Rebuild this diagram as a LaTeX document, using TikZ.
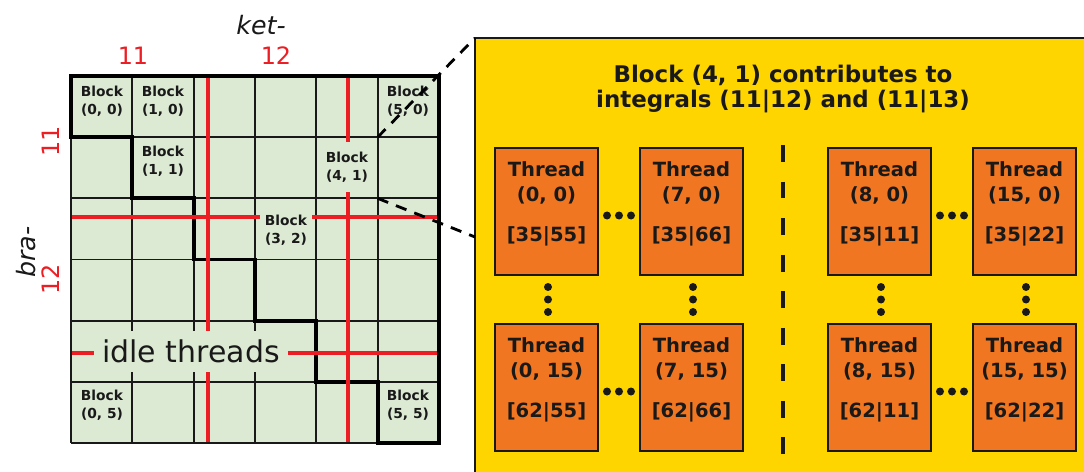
\documentclass[tikz,border=0pt]{standalone}
\usepackage{fontspec}
\setmainfont{DejaVu Sans}
\usetikzlibrary{calc}

\definecolor{cellgreen}{RGB}{220,234,211}
\definecolor{blockyellow}{RGB}{255,213,0}
\definecolor{threadorange}{RGB}{241,118,33}
\definecolor{idlered}{RGB}{236,30,36}
\definecolor{inkgray}{RGB}{25,25,25}

\tikzset{
    gridline/.style={line width=1.3pt, inkgray},
    stairline/.style={line width=2.8pt, black, line join=miter},
    idleline/.style={line width=3.2pt, idlered},
    zoomline/.style={line width=2pt, black, dash pattern=on 8pt off 6pt},
    blocklbl/.style={font=\bfseries\fontsize{9.8}{12.5}\selectfont, align=center, text=inkgray, inner xsep=0.125cm, inner ysep=0.26cm},
    gapfill/.style={fill=cellgreen},
    axislbl/.style={font=\fontsize{17}{20}\selectfont, text=idlered},
    braketlbl/.style={font=\itshape\fontsize{18}{20}\selectfont, text=inkgray},
    tbox/.style={draw=inkgray, line width=1.4pt, fill=threadorange, minimum width=2.575cm, minimum height=3.19cm, inner sep=0pt},
    ttext/.style={font=\bfseries\fontsize{13.9}{17.1}\selectfont, align=center, text=inkgray, inner sep=0pt},
}

\begin{document}
\begin{tikzpicture}[x=0.025cm, y=-0.025cm]

    % Fix the page to the reference size
    \useasboundingbox (0,0) rectangle (1084,472);

    % Define the grid corners g<i><j> (column i, row j)
    \foreach \i in {0,...,6}
        \foreach \j in {0,...,6}
            \coordinate (g\i\j) at ({71+\i*61.33},{76+\j*61.17});

    % Fill the block grid and draw its lines
    \fill[cellgreen] (g00) rectangle (g66);
    \foreach \i in {0,...,6} {
        \draw[gridline] (g\i0) -- (g\i6);
        \draw[gridline] (g0\i) -- (g6\i);
    }

    % Draw the thick staircase round the upper triangle
    \draw[stairline] (g01) -- (g00) -- (g60) -- (g66) -- (g56) -- (g55) -- (g45) -- (g44)
        -- (g34) -- (g33) -- (g23) -- (g22) -- (g12) -- (g11) -- cycle;

    % Draw the red shell boundaries
    \draw[idleline] (208,78) -- (208,442);
    \draw[idleline] (348,78) -- (348,442);
    \draw[idleline] (72,217) -- (437,217);
    \draw[idleline] (72,353) -- (437,353);

    % Add the block labels
    \node[blocklbl] (b00) at (102,101) {Block\\(0, 0)};
    \node[blocklbl] (b10) at (163,101) {Block\\(1, 0)};
    \node[blocklbl] (b50) at (408,101) {Block\\(5, 0)};
    \node[blocklbl] (b11) at (163,161) {Block\\(1, 1)};
    \node[blocklbl, gapfill] (b41) at (347,167) {Block\\(4, 1)};
    \node[blocklbl, gapfill] (b32) at (286,230) {Block\\(3, 2)};
    \node[blocklbl] (b05) at (102,405) {Block\\(0, 5)};
    \node[blocklbl] (b55) at (408,405) {Block\\(5, 5)};

    % Label the idle region
    \node[gapfill, font=\fontsize{21.3}{24}\selectfont, text=inkgray, inner xsep=0.2cm, minimum height=1cm] (idle) at (191,351.5) {idle threads};

    % Add the bra- and ket- axis labels
    \node[braketlbl] (ket) at (261,25) {ket-};
    \node[axislbl] (ket11) at (133,56) {11};
    \node[axislbl] (ket12) at (276,56) {12};
    \node[braketlbl, rotate=90] (bra) at (26,252) {bra-};
    \node[axislbl, rotate=90] (bra11) at (51,141) {11};
    \node[axislbl, rotate=90] (bra12) at (51,279) {12};

    % Draw the yellow panel for Block (4, 1)
    \coordinate (panelTL) at (475,38);
    \coordinate (panelL) at (475,237);
    \fill[blockyellow] (panelTL) rectangle (1084,472);
    \draw[line width=1.4pt, inkgray] (475,472) -- (panelTL) -- (1084,38);

    % Draw the zoom lines from the block to the panel
    \draw[zoomline] (g51) -- (panelTL);
    \draw[zoomline] (g52) -- (panelL);

    % Panel title
    \node[font=\bfseries\fontsize{16.3}{17.1}\selectfont, align=center, text=inkgray] (title) at (783,89)
        {Block (4, 1) contributes to\\integrals (11|12) and (11|13)};

    % Draw the thread boxes
    \foreach \name/\x/\y/\tid/\ints in {t00/546.5/211.5/{0, 0}/{[35|55]}, t70/691.5/211.5/{7, 0}/{[35|66]},
        t80/879.5/211.5/{8, 0}/{[35|11]}, t150/1024.5/211.5/{15, 0}/{[35|22]},
        t015/546.5/387.5/{0, 15}/{[62|55]}, t715/691.5/387.5/{7, 15}/{[62|66]},
        t815/879.5/387.5/{8, 15}/{[62|11]}, t1515/1024.5/387.5/{15, 15}/{[62|22]}} {
        \node[tbox] (\name) at (\x,\y) {};
        \node[ttext] (\name txt) at ([yshift=0.19cm]\name.center) {Thread\\(\tid)\\[11.4pt]{}\ints};
    }

    % Vertical dots between the rows
    \foreach \ta/\tb in {t00/t015, t70/t715, t80/t815, t150/t1515}
        \foreach \k in {-1,0,1}
            \fill[inkgray] ($(\ta.south)!0.5!(\tb.north)+(1.5,\k*12.5)$) circle (0.1cm);

    % Horizontal dots between the columns
    \foreach \ta/\tb in {t00/t70, t015/t715, t80/t150, t815/t1515}
        \foreach \k in {-1,0,1}
            \fill[inkgray] ($(\ta.east)!0.5!(\tb.west)+(\k*12,4)$) circle (0.1cm);

    % Dashed separator between the two integrals
    \coordinate (sepTop) at (783,145);
    \coordinate (sepBot) at (783,460);
    \draw[line width=2.2pt, inkgray, dash pattern=on 12pt off 14pt] (sepTop) -- (sepBot);

\end{tikzpicture}
\end{document}
